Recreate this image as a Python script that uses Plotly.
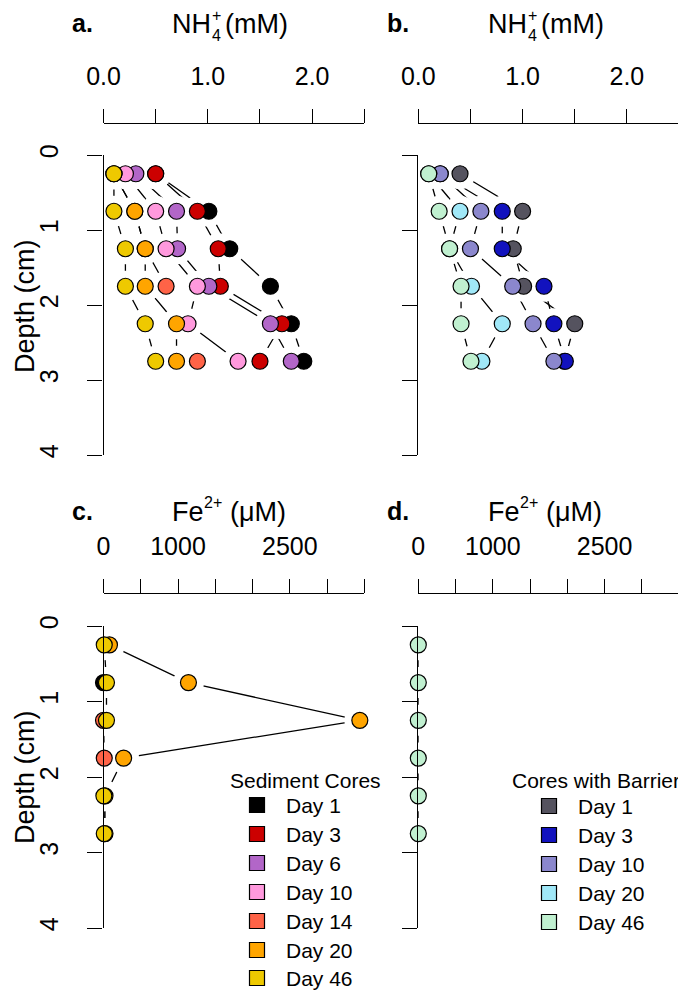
import plotly.graph_objects as go

W, H = 678, 992

depth = [0.25, 0.75, 1.25, 1.75, 2.25, 2.75]

# ---- Sediment cores ----
sed_days = ["Day 1", "Day 3", "Day 6", "Day 10", "Day 14", "Day 20", "Day 46"]
sed_colors = ["#000000", "#CC0000", "#B266C8", "#FF99DD", "#FF6347", "#FFA500", "#EEC900"]
sed_nh4 = [
    [0.50, 1.01, 1.21, 1.60, 1.80, 1.92],   # Day 1
    [0.50, 0.90, 1.10, 1.12, 1.71, 1.50],   # Day 3
    [0.31, 0.70, 0.71, 1.01, 1.60, 1.80],   # Day 6
    [0.21, 0.50, 0.60, 0.90, 0.81, 1.29],   # Day 10
    [0.10, 0.30, 0.40, 0.60, None, 0.90],   # Day 14
    [0.10, 0.30, 0.40, 0.40, 0.70, 0.70],   # Day 20
    [0.10, 0.10, 0.21, 0.21, 0.40, 0.50],   # Day 46
]
sed_fe = [
    [None, 0, None, None, None, None],      # Day 1
    [None, None, None, None, None, None],   # Day 3
    [None, None, None, None, None, None],   # Day 6
    [None, None, None, None, None, None],   # Day 10
    [None, None, 0, 10, None, None],        # Day 14
    [80, 1140, 3440, 270, 20, 20],          # Day 20
    [10, 40, 40, None, 5, 10],              # Day 46
]

# ---- Cores with barrier ----
bar_days = ["Day 1", "Day 3", "Day 10", "Day 20", "Day 46"]
bar_colors = ["#55535F", "#1212BE", "#8B87CD", "#A0E8F8", "#C0F0D0"]
bar_nh4 = [
    [0.40, 1.00, 0.91, 1.01, 1.50, 1.40],   # Day 1
    [0.21, 0.805, 0.805, 1.205, 1.30, 1.41],  # Day 3
    [0.21, 0.60, 0.50, 0.905, 1.10, 1.30],  # Day 10
    [0.10, 0.40, 0.30, 0.51, 0.805, 0.61],  # Day 20
    [0.10, 0.20, 0.30, 0.41, 0.41, 0.505],  # Day 46
]
bar_fe = [
    [None] * 6,
    [None] * 6,
    [None] * 6,
    [None] * 6,
    [0, 0, 0, 0, 0, 0],                     # Day 46
]

nh4_ticks = [0, 0.5, 1.0, 1.5, 2.0, 2.5]
nh4_ticktext = ["0.0", "", "1.0", "", "2.0", ""]
fe_ticks = [0, 500, 1000, 1500, 2000, 2500, 3000, 3500]
fe_ticktext = ["0", "", "1000", "", "", "2500", "", ""]
depth_ticks = [0, 1, 2, 3, 4]

FONT = "Liberation Sans, Arial, Helvetica, sans-serif"

def px_x(p):
    return p / W

def px_y(p):
    return 1 - p / H

fig = go.Figure()

panels = [
    ("x", "y", sed_nh4, sed_colors),
    ("x2", "y2", bar_nh4, bar_colors),
    ("x3", "y3", sed_fe, sed_colors),
    ("x4", "y4", bar_fe, bar_colors),
]

# 1) connecting lines (black)
for xa, ya, data, cols in panels:
    for vals in data:
        fig.add_trace(go.Scatter(x=vals, y=depth, xaxis=xa, yaxis=ya, mode="lines",
                                 line=dict(color="black", width=1.3),
                                 connectgaps=False, hoverinfo="skip", cliponaxis=False))
# 2) white halos: leave the gaps around points that R's type="b" lines have
for xa, ya, data, cols in panels:
    for vals in data:
        fig.add_trace(go.Scatter(x=vals, y=depth, xaxis=xa, yaxis=ya, mode="markers",
                                 marker=dict(size=31, color="white", line=dict(width=0)),
                                 hoverinfo="skip", cliponaxis=False))
# 3) the points
for xa, ya, data, cols in panels:
    for vals, c in zip(data, cols):
        fig.add_trace(go.Scatter(x=vals, y=depth, xaxis=xa, yaxis=ya, mode="markers",
                                 marker=dict(size=16, color=c, line=dict(color="black", width=1.2)),
                                 cliponaxis=False))

# legends (drawn in a pixel-coordinate helper axis)
sed_leg_y = [805, 834, 863, 892, 921, 950, 978]
bar_leg_y = [806, 835, 864, 893, 922]
fig.add_trace(go.Scatter(x=[257] * len(sed_days), y=sed_leg_y, xaxis="x5", yaxis="y5", mode="markers",
                         marker=dict(symbol="square", size=15, color=sed_colors,
                                     line=dict(color="black", width=1.2)), cliponaxis=False))
fig.add_trace(go.Scatter(x=[549] * len(bar_days), y=bar_leg_y, xaxis="x5", yaxis="y5", mode="markers",
                         marker=dict(symbol="square", size=15, color=bar_colors,
                                     line=dict(color="black", width=1.2)), cliponaxis=False))

ann = []
def text(x, y, s, size=21, anchor="left", bold=False, angle=0):
    ann.append(dict(x=x, y=y, xref="x5", yref="y5", text=("<b>%s</b>" % s if bold else s),
                    showarrow=False, xanchor=anchor, yanchor="middle", textangle=angle,
                    borderpad=0, font=dict(family=FONT, size=size, color="black")))

text(229, 780, "Sediment Cores", 21)
for d, yy in zip(sed_days, sed_leg_y):
    text(285, yy, d, 21)
text(511, 780, "Cores with Barrier", 21)
for d, yy in zip(bar_days, bar_leg_y):
    text(577, yy, d, 21)

# panel labels and axis titles
for x0, y0, lab in [(82, 23, "a."), (398, 23, "b."), (82, 511, "c."), (398, 511, "d.")]:
    text(x0, y0, lab, 25, anchor="center", bold=True)
for xs, y0 in [(171, 24), (487, 24)]:
    text(xs, y0, "NH", 27)
    text(xs + 40, y0 - 9, "+", 16)
    text(xs + 40, y0 + 11, "4", 16)
    text(xs + 53, y0, "(mM)", 27)
for xs, y0 in [(171, 512), (487, 512)]:
    text(xs, y0, "Fe", 27)
    text(xs + 32, y0 - 10, "2+", 16)
    text(xs + 58, y0, "(\u03bcM)", 27)
text(25, 306, "Depth (cm)", 27, anchor="center", angle=-90)
text(25, 777, "Depth (cm)", 27, anchor="center", angle=-90)

ax_common = dict(showline=True, linecolor="black", linewidth=1.3, ticks="outside",
                 tickcolor="black", tickwidth=1.3, showgrid=False, zeroline=False,
                 automargin=False,
                 tickfont=dict(family=FONT, size=25, color="black"), layer="above traces")

xa_left = [px_x(103.5), px_x(364.3)]
xa_right = [px_x(418.3), 1.0]
ya_top = [px_y(455), px_y(155)]
ya_bot = [px_y(928), px_y(626)]

fig.update_layout(
    template="none",
    width=W, height=H, margin=dict(l=0, r=0, t=0, b=0, pad=0),
    paper_bgcolor="white", plot_bgcolor="rgba(0,0,0,0)", showlegend=False,
    font=dict(family=FONT, color="black"),
    xaxis=dict(domain=xa_left, range=[0, 2.5], anchor="free", position=px_y(122.7), side="top",
               tickvals=nh4_ticks, ticktext=nh4_ticktext, ticklen=14, ticklabelstandoff=14, **ax_common),
    xaxis2=dict(domain=xa_right, range=[0, (W - 418.3) / 104.3], anchor="free", position=px_y(122.7),
                side="top", tickvals=nh4_ticks, ticktext=nh4_ticktext, ticklen=14, ticklabelstandoff=14,
                **ax_common),
    xaxis3=dict(domain=xa_left, range=[0, 3500], anchor="free", position=px_y(592.7), side="top",
                tickvals=fe_ticks, ticktext=fe_ticktext, ticklen=14, ticklabelstandoff=14, **ax_common),
    xaxis4=dict(domain=xa_right, range=[0, 3500 * (W - 418.3) / 260.8], anchor="free",
                position=px_y(592.7), side="top", tickvals=fe_ticks, ticktext=fe_ticktext, ticklen=14,
                ticklabelstandoff=14, **ax_common),
    yaxis=dict(domain=ya_top, range=[4, 0], anchor="x", tickvals=depth_ticks, tickangle=-90,
               ticklen=15, ticklabelstandoff=19, **ax_common),
    yaxis2=dict(domain=ya_top, range=[4, 0], anchor="x2", tickvals=depth_ticks, showticklabels=False,
                ticklen=15, **ax_common),
    yaxis3=dict(domain=ya_bot, range=[4, 0], anchor="x3", tickvals=depth_ticks, tickangle=-90,
                ticklen=15, ticklabelstandoff=19, **ax_common),
    yaxis4=dict(domain=ya_bot, range=[4, 0], anchor="x4", tickvals=depth_ticks, showticklabels=False,
                ticklen=15, **ax_common),
    xaxis5=dict(domain=[0, 1], range=[0, W], visible=False, anchor="y5", fixedrange=True, automargin=False),
    yaxis5=dict(domain=[0, 1], range=[H, 0], visible=False, anchor="x5", fixedrange=True, automargin=False),
    annotations=ann,
)

fig.write_html("out.html")
